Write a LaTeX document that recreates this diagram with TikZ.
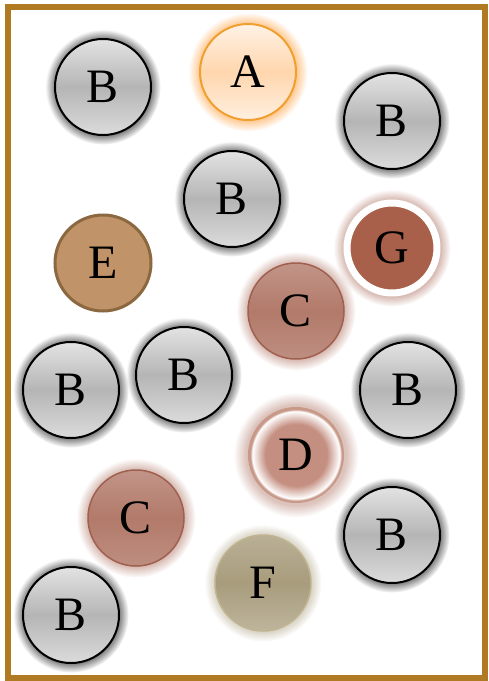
\documentclass[tikz,border=0pt]{standalone}
\usepackage{fontspec}
\setmainfont{Liberation Serif}
\usetikzlibrary{shadows,fadings}
\definecolor{framebrown}{HTML}{B07A22}
\definecolor{aedge}{HTML}{F0A030}
\definecolor{gfill}{HTML}{A8604A}
\definecolor{cfill}{HTML}{B27A6A}
\definecolor{cedge}{HTML}{A06050}
\definecolor{dfill}{HTML}{C48E80}
\definecolor{dedge}{HTML}{C89888}
\definecolor{efill}{HTML}{C09468}
\definecolor{eedge}{HTML}{8C6840}
\definecolor{ffill}{HTML}{A89C7C}
\definecolor{fedge}{HTML}{C0B490}
\pgfdeclareradialshading{dshade}{\pgfpoint{0bp}{0bp}}{color(0bp)=(dfill); color(16bp)=(dfill); color(22.8bp)=(white); color(23.8bp)=(dedge); color(25bp)=(dedge); color(50bp)=(dedge)}
\tikzset{ball/.style = {shape = circle, minimum size = 96pt, inner sep = 0pt, font = \fontsize{48}{52}\selectfont}}
\tikzset{bnode/.style = {ball, draw = black, line width = 2pt, top color = gray!22, bottom color = gray!28, middle color = gray!58,
    circular glow = {fill = black!60, shadow scale = 1.2, path fading = circle with fuzzy edge 20 percent}}}
\tikzset{anode/.style = {ball, draw = aedge, line width = 2pt, top color = orange!10, bottom color = orange!12, middle color = orange!32,
    circular glow = {fill = orange!45, shadow scale = 1.24, path fading = circle with fuzzy edge 20 percent}}}
\tikzset{cnode/.style = {ball, draw = cedge, line width = 1.5pt, top color = cfill!80, bottom color = cfill!85, middle color = cfill,
    circular glow = {fill = cfill!55, shadow scale = 1.24, path fading = circle with fuzzy edge 20 percent}}}
\tikzset{dnode/.style = {ball, shading = dshade, circular glow = {fill = cfill!45, shadow scale = 1.3, path fading = circle with fuzzy edge 20 percent}}}
\tikzset{gnode/.style = {ball, fill = gfill, draw = white, line width = 7pt, minimum size = 90pt,
    circular glow = {fill = cfill!60, shadow scale = 1.3, path fading = circle with fuzzy edge 20 percent}}}
\tikzset{enode/.style = {ball, fill = efill, draw = eedge, line width = 3pt}}
\tikzset{fnode/.style = {ball, draw = fedge, line width = 1.5pt, top color = ffill!80, bottom color = ffill!75, middle color = ffill,
    circular glow = {fill = ffill!50, shadow scale = 1.22, path fading = circle with fuzzy edge 20 percent}}}
\tikzset{frame/.style = {draw = framebrown, line width = 6pt}}

\begin{document}
\begin{tikzpicture}[x = 1pt, y = -1pt]
	\useasboundingbox (0, 0) rectangle (488, 681);
	\draw[frame] (8, 6.5) rectangle (485, 678);

	\node[bnode] (b1) at (103, 87) {B};
	\node[anode] (a) at (248, 72) {A};
	\node[bnode] (b2) at (392, 121) {B};
	\node[bnode] (b3) at (232, 199) {B};
	\node[gnode] (g) at (392, 248) {G};
	\node[enode] (e) at (103, 263) {E};
	\node[cnode] (c1) at (296, 311) {C};
	\node[bnode] (b4) at (71, 390) {B};
	\node[bnode] (b5) at (184, 375) {B};
	\node[bnode] (b6) at (408, 390) {B};
	\node[dnode] (d) at (296, 455) {D};
	\node[cnode] (c2) at (136, 518) {C};
	\node[bnode] (b7) at (392, 535) {B};
	\node[fnode] (f) at (263, 583) {F};
	\node[bnode] (b8) at (71, 615) {B};
\end{tikzpicture}
\end{document}
